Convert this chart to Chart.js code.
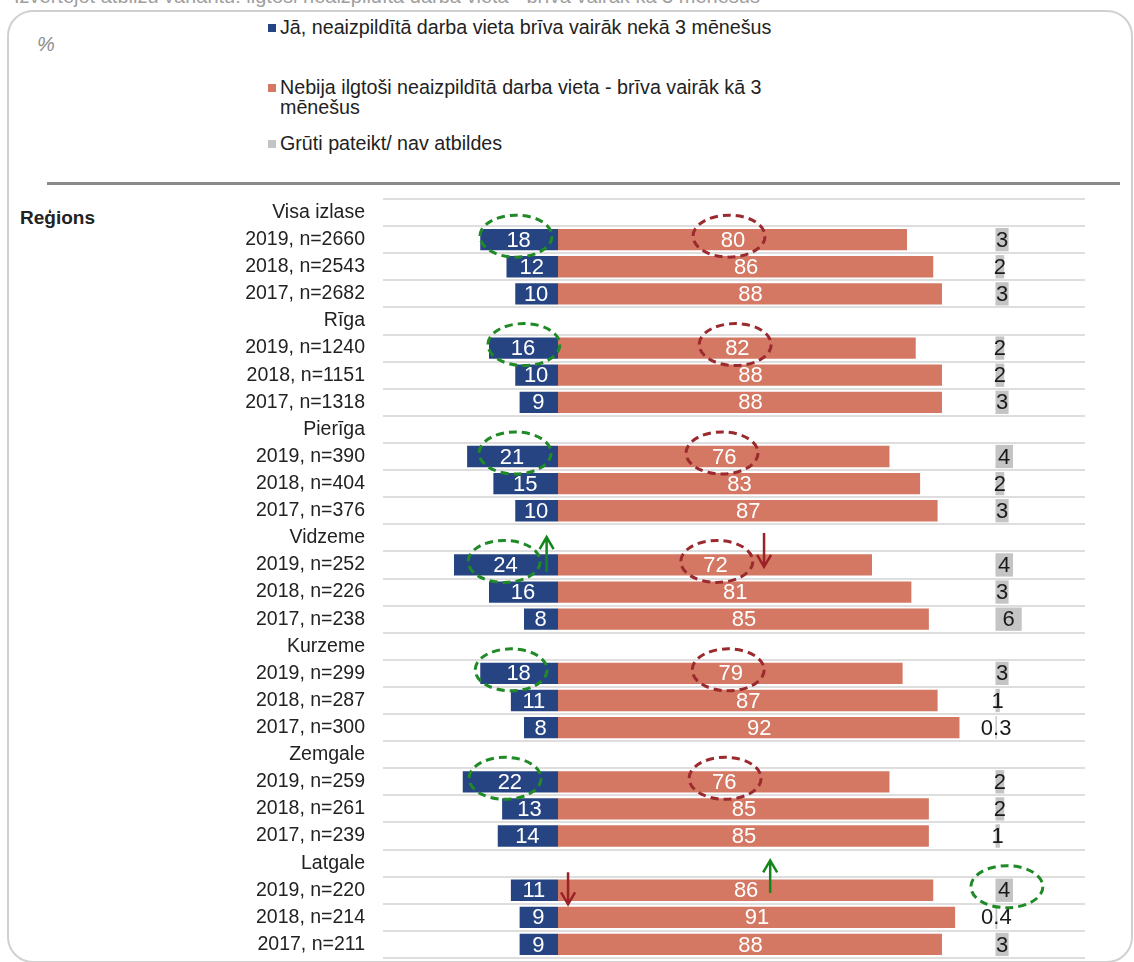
<!DOCTYPE html>
<html lang="lv">
<head>
    <meta charset="UTF-8">
    <title>Ilgtoši neaizpildītas darba vietas</title>
    <style>
        body {
            margin: 0;
            width: 1134px;
            height: 962px;
            overflow: hidden;
            background: #fff;
            position: relative;
            font-family: "Liberation Sans", Arial, sans-serif;
            color: #222;
        }
        #title {
            position: absolute;
            left: 14px;
            top: -15px;
            font-size: 20px;
            color: #a0a0a0;
            white-space: nowrap;
        }
        #frame {
            position: absolute;
            left: 7px;
            top: 10px;
            width: 1122px;
            height: 949px;
            border: 2px solid #d0d0d0;
            border-radius: 26px;
        }
        #pct {
            position: absolute;
            left: 37px;
            top: 33px;
            font-size: 20px;
            font-style: italic;
            color: #8c8c8c;
        }
        .leg {
            position: absolute;
            left: 268px;
            font-size: 19.7px;
            line-height: 20px;
            white-space: nowrap;
        }
        .leg .sq {
            display: inline-block;
            width: 8px;
            height: 8px;
            margin-right: 4px;
            vertical-align: 2px;
        }
        .leg .l2 { padding-left: 12px; }
        #rule {
            position: absolute;
            left: 47px;
            top: 182px;
            width: 1073px;
            height: 3px;
            background: #8a8a8a;
        }
        #regions {
            position: absolute;
            left: 20px;
            top: 207px;
            font-size: 19px;
            font-weight: bold;
        }
        #chartBox {
            position: absolute;
            left: 0;
            top: 190px;
            width: 1134px;
            height: 772px;
        }
    </style>
    <script src="https://cdn.jsdelivr.net/npm/chart.js"></script>
</head>
<body>
    <div id="title">Izvērtējot atbilžu variantu: ilgtoši neaizpildīta darba vieta - brīva vairāk kā 3 mēnešus</div>
    <div id="frame"></div>
    <div id="pct">%</div>

    <div class="leg" style="top:17px"><span class="sq" style="background:#264482"></span>Jā, neaizpildītā darba vieta brīva vairāk nekā 3 mēnešus</div>
    <div class="leg" style="top:77px"><span class="sq" style="background:#d47863"></span>Nebija ilgtoši neaizpildītā darba vieta - brīva vairāk kā 3<br><span class="l2">mēnešus</span></div>
    <div class="leg" style="top:133px"><span class="sq" style="background:#c4c4c4"></span>Grūti pateikt/ nav atbildes</div>

    <div id="rule"></div>
    <div id="regions">Reģions</div>

    <div id="chartBox">
        <canvas id="myChart"></canvas>
    </div>

    <script>
        // Rindas: reģiona virsraksts + trīs gadi
        const rindas = [
            'Visa izlase', '2019, n=2660', '2018, n=2543', '2017, n=2682',
            'Rīga', '2019, n=1240', '2018, n=1151', '2017, n=1318',
            'Pierīga', '2019, n=390', '2018, n=404', '2017, n=376',
            'Vidzeme', '2019, n=252', '2018, n=226', '2017, n=238',
            'Kurzeme', '2019, n=299', '2018, n=287', '2017, n=300',
            'Zemgale', '2019, n=259', '2018, n=261', '2017, n=239',
            'Latgale', '2019, n=220', '2018, n=214', '2017, n=211'
        ];

        // null = virsraksta rinda
        const ja = [
            null, 18, 12, 10,
            null, 16, 10, 9,
            null, 21, 15, 10,
            null, 24, 16, 8,
            null, 18, 11, 8,
            null, 22, 13, 14,
            null, 11, 9, 9
        ];
        const nebija = [
            null, 80, 86, 88,
            null, 82, 88, 88,
            null, 76, 83, 87,
            null, 72, 81, 85,
            null, 79, 87, 92,
            null, 76, 85, 85,
            null, 86, 91, 88
        ];
        const grutiPateikt = [
            null, 3, 2, 3,
            null, 2, 2, 3,
            null, 4, 2, 3,
            null, 4, 3, 6,
            null, 3, 1, 0.3,
            null, 2, 2, 1,
            null, 4, 0.4, 3
        ];

        // Iezīmējumi: [rinda, x vērtība]
        const zaliasRinkis = [[1, -9.6], [5, -7.8], [9, -9.8], [13, -12.3], [17, -10.7], [21, -12.1], [25, 102.6]];
        const sarkanieRinki = [[1, 39.1], [5, 40.5], [9, 37.5], [13, 36.3], [17, 38.9], [21, 38.2]];
        // Bultas: [rinda, x vērtība, sākums, gals] (rindu vienībās)
        const bultasZalas = [[13, -2.6, 0.25, -1.03], [25, 48.5, 0.1, -1.1]];
        const bultasSarkanas = [[13, 47.1, -1.18, 0.07], [25, 2.3, -0.66, 0.52]];

        const pelekaisSakums = 100;

        // Vērtību uzraksti uz stabiņiem
        const labelsPlugin = {
            id: 'vertibas',
            afterDatasetsDraw(chart) {
                const ctx = chart.ctx;
                ctx.save();
                ctx.font = '22px "Liberation Sans", Arial, sans-serif';
                ctx.textAlign = 'center';
                ctx.textBaseline = 'middle';
                chart.data.datasets.forEach((ds, di) => {
                    const meta = chart.getDatasetMeta(di);
                    meta.data.forEach((bar, i) => {
                        const v = ds.vertibas[i];
                        if (v === null) return;
                        ctx.fillStyle = di === 2 ? '#1a1a1a' : '#ffffff';
                        ctx.fillText(String(v), (bar.x + bar.base) / 2, bar.y + 1);
                    });
                });
                ctx.restore();
            }
        };

        function rindasY(y, r, nobide) {
            const h = y.getPixelForValue(1) - y.getPixelForValue(0);
            return y.getPixelForValue(r) + nobide * h;
        }

        function bulta(ctx, x, ya, yb, krasa) {
            ctx.strokeStyle = krasa;
            ctx.lineWidth = 2.5;
            ctx.setLineDash([]);
            ctx.beginPath();
            ctx.moveTo(x, ya);
            ctx.lineTo(x, yb);
            const dir = yb > ya ? -1 : 1;
            ctx.moveTo(x - 7, yb + dir * 12);
            ctx.lineTo(x, yb);
            ctx.lineTo(x + 7, yb + dir * 12);
            ctx.stroke();
        }

        const annotPlugin = {
            id: 'iezimes',
            afterDraw(chart) {
                const ctx = chart.ctx;
                const x = chart.scales.x, y = chart.scales.y;
                ctx.save();
                ctx.lineWidth = 3;
                ctx.setLineDash([8, 5]);
                zaliasRinkis.forEach(([r, v]) => {
                    ctx.strokeStyle = '#1f8a26';
                    ctx.beginPath();
                    ctx.ellipse(x.getPixelForValue(v), rindasY(y, r, -0.13), 36, 21, 0, 0, Math.PI * 2);
                    ctx.stroke();
                });
                sarkanieRinki.forEach(([r, v]) => {
                    ctx.strokeStyle = '#9a2a2e';
                    ctx.beginPath();
                    ctx.ellipse(x.getPixelForValue(v), rindasY(y, r, -0.13), 36, 21, 0, 0, Math.PI * 2);
                    ctx.stroke();
                });
                bultasZalas.forEach(([r, v, a, b]) => {
                    bulta(ctx, x.getPixelForValue(v), rindasY(y, r, a), rindasY(y, r, b), '#13861c');
                });
                bultasSarkanas.forEach(([r, v, a, b]) => {
                    bulta(ctx, x.getPixelForValue(v), rindasY(y, r, a), rindasY(y, r, b), '#9a2226');
                });
                ctx.restore();
            }
        };

        const ctx = document.getElementById('myChart').getContext('2d');
        const myChart = new Chart(ctx, {
            type: 'bar',
            data: {
                labels: rindas,
                datasets: [
                    {
                        label: 'Jā, neaizpildītā darba vieta brīva vairāk nekā 3 mēnešus',
                        data: ja.map(v => v === null ? null : -v),
                        vertibas: ja,
                        backgroundColor: '#264482',
                        borderColor: '#ffffff',
                        borderWidth: 1,
                        grouped: false
                    },
                    {
                        label: 'Nebija ilgtoši neaizpildītā darba vieta - brīva vairāk kā 3 mēnešus',
                        data: nebija,
                        vertibas: nebija,
                        backgroundColor: '#d47863',
                        borderColor: '#ffffff',
                        borderWidth: 1,
                        grouped: false
                    },
                    {
                        label: 'Grūti pateikt/ nav atbildes',
                        data: grutiPateikt.map(v => v === null ? null : [pelekaisSakums, pelekaisSakums + v]),
                        vertibas: grutiPateikt,
                        backgroundColor: '#c4c4c4',
                        borderWidth: 0,
                        grouped: false
                    }
                ]
            },
            options: {
                indexAxis: 'y',
                responsive: true,
                maintainAspectRatio: false,
                animation: false,
                categoryPercentage: 0.86,
                barPercentage: 1,
                layout: { padding: { top: 9, bottom: 4, left: 0, right: 49 } },
                scales: {
                    x: {
                        display: false,
                        min: -40,
                        max: 120.46
                    },
                    y: {
                        afterFit(scale) {
                            scale.width = 383;
                            scale.paddingTop = 0;
                            scale.paddingBottom = 0;
                        },
                        border: { display: false },
                        grid: {
                            color: '#dedede',
                            lineWidth: 2,
                            drawTicks: false,
                            offset: true
                        },
                        ticks: {
                            padding: 18,
                            color: '#222',
                            autoSkip: false,
                            font: { family: '"Liberation Sans", Arial, sans-serif', size: 19.5 }
                        }
                    }
                },
                plugins: {
                    legend: { display: false },
                    tooltip: { enabled: false }
                }
            },
            plugins: [labelsPlugin, annotPlugin]
        });
    </script>
</body>
</html>
